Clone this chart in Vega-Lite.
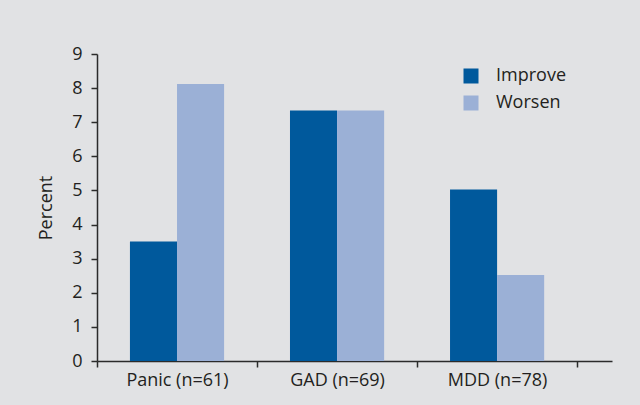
{
  "$schema": "https://vega.github.io/schema/vega-lite/v6.json",
  "autosize": {"type": "none"},
  "padding": {"left": 97, "top": 54, "right": 28, "bottom": 44},
  "width": 515,
  "height": 307,
  "background": "#e1e2e4",
  "config": {
    "view": {"stroke": null},
    "font": "Open Sans",
    "axis": {
      "domainColor": "#2b2b2b",
      "tickColor": "#2b2b2b",
      "domainWidth": 1.5,
      "tickWidth": 1.5,
      "labelColor": "#231f20",
      "titleColor": "#231f20",
      "labelFontSize": 18,
      "titleFontSize": 18,
      "titleFontWeight": "normal",
      "grid": false
    }
  },
  "data": {
    "values": [
      {"group": "Panic (n=61)", "change": "Improve", "percent": 3.5},
      {"group": "Panic (n=61)", "change": "Worsen", "percent": 8.12},
      {"group": "GAD (n=69)", "change": "Improve", "percent": 7.34},
      {"group": "GAD (n=69)", "change": "Worsen", "percent": 7.34},
      {"group": "MDD (n=78)", "change": "Improve", "percent": 5.03},
      {"group": "MDD (n=78)", "change": "Worsen", "percent": 2.52}
    ]
  },
  "mark": {"type": "bar"},
  "encoding": {
    "x": {
      "field": "group",
      "type": "nominal",
      "sort": null,
      "title": null,
      "scale": {"paddingInner": 0, "paddingOuter": 0.109, "align": 0},
      "axis": {"labelAngle": 0, "tickBand": "extent", "tickSize": 6, "labelPadding": 4}
    },
    "xOffset": {
      "field": "change",
      "type": "nominal",
      "scale": {"paddingInner": 0, "paddingOuter": 0.7}
    },
    "y": {
      "field": "percent",
      "type": "quantitative",
      "title": "Percent",
      "scale": {"domain": [0, 9], "nice": false},
      "axis": {"values": [0, 1, 2, 3, 4, 5, 6, 7, 8, 9], "tickSize": 6, "labelPadding": 9, "titlePadding": 16}
    },
    "color": {
      "field": "change",
      "type": "nominal",
      "title": null,
      "scale": {"domain": ["Improve", "Worsen"], "range": ["#00599c", "#9bb0d6"]},
      "legend": {
        "orient": "none",
        "legendX": 365,
        "legendY": 13,
        "symbolType": "square",
        "symbolSize": 225,
        "symbolStrokeWidth": 0,
        "symbolOpacity": 1,
        "labelFontSize": 18,
        "labelColor": "#231f20",
        "labelOffset": 16,
        "rowPadding": 9
      }
    }
  }
}
